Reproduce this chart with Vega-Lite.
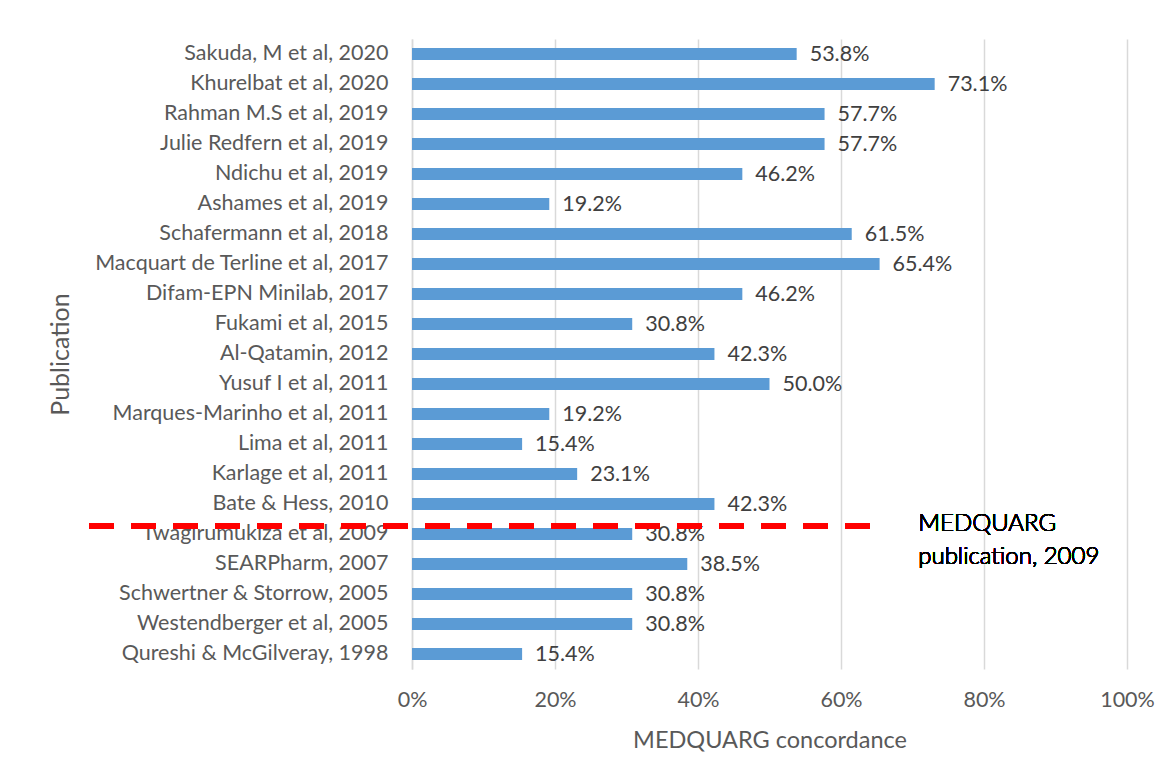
{
  "$schema": "https://vega.github.io/schema/vega-lite/v6.json",
  "autosize": {"type": "none"},
  "width": 715,
  "height": 630,
  "padding": {"left": 412, "top": 39, "right": 41, "bottom": 111},
  "background": "white",
  "config": {
    "font": "Lato",
    "view": {"stroke": null},
    "axis": {"labelFont": "Lato", "titleFont": "Lato", "labelColor": "#595959", "titleColor": "#595959", "titleFontWeight": "normal"}
  },
  "data": {
    "values": [
      {"publication": "Sakuda, M et al, 2020", "concordance": 0.538},
      {"publication": "Khurelbat et al, 2020", "concordance": 0.731},
      {"publication": "Rahman M.S et al, 2019", "concordance": 0.577},
      {"publication": "Julie Redfern et al, 2019", "concordance": 0.577},
      {"publication": "Ndichu et al, 2019", "concordance": 0.462},
      {"publication": "Ashames et al, 2019", "concordance": 0.192},
      {"publication": "Schafermann et al, 2018", "concordance": 0.615},
      {"publication": "Macquart de Terline et al, 2017", "concordance": 0.654},
      {"publication": "Difam-EPN Minilab, 2017", "concordance": 0.462},
      {"publication": "Fukami et al, 2015", "concordance": 0.308},
      {"publication": "Al-Qatamin, 2012", "concordance": 0.423},
      {"publication": "Yusuf I et al, 2011", "concordance": 0.5},
      {"publication": "Marques-Marinho et al, 2011", "concordance": 0.192},
      {"publication": "Lima et al, 2011", "concordance": 0.154},
      {"publication": "Karlage et al, 2011", "concordance": 0.231},
      {"publication": "Bate & Hess, 2010", "concordance": 0.423},
      {"publication": "Twagirumukiza et al, 2009", "concordance": 0.308},
      {"publication": "SEARPharm, 2007", "concordance": 0.385},
      {"publication": "Schwertner & Storrow, 2005", "concordance": 0.308},
      {"publication": "Westendberger et al, 2005", "concordance": 0.308},
      {"publication": "Qureshi & McGilveray, 1998", "concordance": 0.154}
    ]
  },
  "encoding": {
    "y": {
      "field": "publication", "type": "nominal", "sort": null,
      "scale": {"paddingInner": 0, "paddingOuter": 0},
      "axis": {
        "title": "Publication", "titleFontSize": 25, "titleX": -352, "titleY": 315, "titleAngle": -90,
        "titleAlign": "center", "titleBaseline": "middle",
        "labelFontSize": 21.5, "labelPadding": 24, "labelLimit": 0, "ticks": false,
        "domain": true, "domainColor": "#d9d9d9", "domainWidth": 1.5, "grid": false
      }
    },
    "x": {
      "field": "concordance", "type": "quantitative",
      "scale": {"domain": [0, 1], "nice": false},
      "axis": {
        "title": "MEDQUARG concordance", "titleFontSize": 23.5, "titleY": 71, "titleBaseline": "middle",
        "format": ".0%", "values": [0, 0.2, 0.4, 0.6, 0.8, 1], "labelFlush": false,
        "labelFontSize": 21.5, "labelPadding": 20, "ticks": false, "domain": false,
        "grid": true, "gridColor": "#d9d9d9", "gridWidth": 1.5
      }
    }
  },
  "layer": [
    {"mark": {"type": "bar", "color": "#5B9BD5", "height": 12}},
    {
      "mark": {"type": "text", "align": "left", "baseline": "middle", "dx": 13, "dy": 1, "fontSize": 21.5, "color": "#404040"},
      "encoding": {"text": {"field": "concordance", "type": "quantitative", "format": ".1%"}}
    },
    {
      "mark": {"type": "rule", "color": "#FF0000", "strokeWidth": 5.5, "strokeDash": [24, 18], "yOffset": -8, "clip": false},
      "encoding": {
        "x": {"datum": -0.451},
        "x2": {"datum": 0.655},
        "y": {"datum": "Twagirumukiza et al, 2009"}
      }
    },
    {
      "mark": {"type": "text", "align": "left", "baseline": "middle", "fontSize": 24, "fontWeight": 300, "color": "#000000", "lineHeight": 33, "yOffset": -10, "lineBreak": "\n"},
      "encoding": {
        "x": {"datum": 0.708},
        "y": {"datum": "Twagirumukiza et al, 2009"},
        "text": {"value": "MEDQUARG\npublication, 2009"}
      }
    }
  ]
}
